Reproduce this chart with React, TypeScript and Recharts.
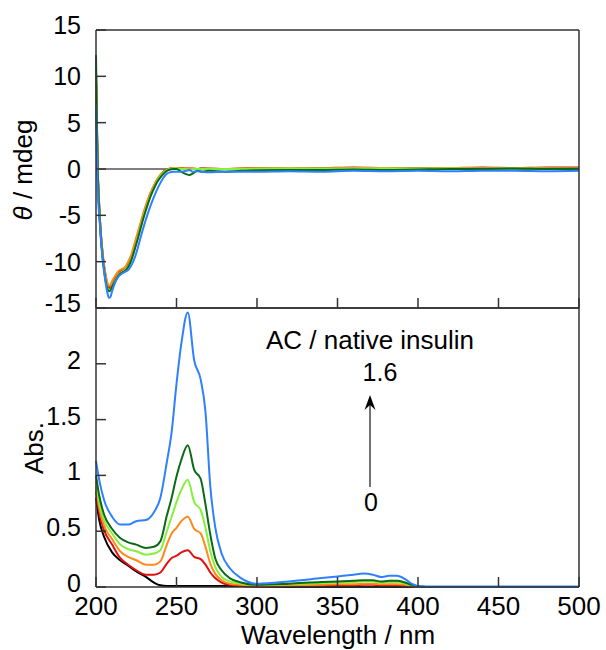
import React from "react";
import { LineChart, Line, XAxis, YAxis, ReferenceLine } from "recharts";

const FONT = '"Liberation Sans", Arial, Helvetica, sans-serif';
const AXIS = "#333";

const xTicks = [200, 250, 300, 350, 400, 450, 500];
const cdTicks = [-15, -10, -5, 0, 5, 10, 15];
const cdRightTicks = [-10, -5, 5, 10];
const absTicks = [0, 0.5, 1, 1.5, 2];
const absRightTicks = [0.5, 1, 1.5, 2];

// CD spectra (mdeg)
const cdWl = [200, 200.5, 201, 202, 203, 204, 205, 206, 207, 208, 209, 210, 212, 214, 216, 218, 220, 222, 224, 226, 228, 230, 232, 234, 236, 238, 240, 242, 244, 246, 248, 250, 253, 256, 258, 260, 263, 266, 270, 280, 290, 300, 320, 340, 360, 380, 400, 420, 440, 460, 480, 500];
const cdBlack = [10, 5, 0.5, -4, -7, -9, -10.6, -11.7, -12.5, -12.8, -12.8, -12.4, -11.8, -11.3, -11.0, -10.8, -10.3, -9.5, -8.3, -7.1, -5.9, -4.7, -3.6, -2.6, -1.9, -1.2, -0.7, -0.3, -0.1, 0, 0.05, 0.05, 0.05, 0.05, 0, 0, 0, 0.05, 0, 0, 0, 0.05, 0.05, 0.05, 0.1, 0.05, 0.05, 0.1, 0.05, 0.1, 0.05, 0.05];
const cdRed = [10.5, 5, 0.3, -4.2, -7, -9, -10.5, -11.6, -12.4, -12.8, -12.7, -12.3, -11.7, -11.2, -10.9, -10.7, -10.2, -9.4, -8.2, -7.0, -5.8, -4.6, -3.5, -2.6, -1.8, -1.2, -0.7, -0.3, -0.1, 0.05, 0.1, 0.1, 0.05, 0.1, 0.05, 0.05, 0, 0.05, 0.05, 0, 0.05, 0.1, 0.1, 0.1, 0.15, 0.1, 0.1, 0.1, 0.15, 0.1, 0.15, 0.15];
const cdOrange = [9.5, 4.5, 0, -4, -6.8, -8.8, -10.3, -11.4, -12.2, -12.6, -12.5, -12.1, -11.5, -11.0, -10.8, -10.6, -10.0, -9.2, -8.0, -6.8, -5.6, -4.4, -3.4, -2.5, -1.8, -1.1, -0.6, -0.3, -0.1, 0.05, 0.1, 0.1, 0.05, 0.1, 0.05, 0.05, 0, 0.05, 0, 0, 0.05, 0.05, 0.1, 0.05, 0.1, 0.1, 0.05, 0.1, 0.05, 0.1, 0.05, 0];
const cdLightGreen = [11, 5.5, 0.5, -4.2, -7.2, -9.3, -10.8, -12.0, -12.8, -13.1, -13.0, -12.6, -12.0, -11.4, -11.1, -10.9, -10.5, -9.7, -8.6, -7.4, -6.1, -4.9, -3.8, -2.8, -2.0, -1.3, -0.8, -0.4, -0.15, 0, 0.05, 0.05, 0, 0, -0.1, 0, 0, 0, 0, 0, 0, 0.05, 0.05, 0.05, 0.05, 0.05, 0.05, 0.05, 0.05, 0.05, 0.05, 0.05];
const cdDarkGreen = [12.3, 6, 0.5, -4.3, -7.3, -9.4, -10.9, -12.1, -12.9, -13.2, -13.1, -12.7, -12.1, -11.5, -11.2, -11.0, -10.6, -9.8, -8.7, -7.5, -6.2, -5.0, -3.9, -2.9, -2.1, -1.4, -0.9, -0.5, -0.2, -0.05, 0, 0, -0.3, -0.55, -0.65, -0.5, -0.2, -0.3, -0.2, -0.3, -0.2, -0.15, -0.1, -0.1, -0.05, -0.1, -0.05, 0, 0, 0.05, 0, 0];
const cdBlue = [7, 2, -2, -5, -7.5, -9.5, -11, -12.3, -13.3, -13.9, -13.8, -13.2, -12.2, -11.6, -11.3, -11.1, -10.9, -10.4, -9.6, -8.5, -7.2, -6.0, -4.9, -3.9, -3.0, -2.2, -1.5, -0.9, -0.5, -0.35, -0.3, -0.3, -0.3, -0.2, -0.1, -0.3, -0.25, -0.3, -0.35, -0.3, -0.3, -0.3, -0.25, -0.3, -0.2, -0.25, -0.2, -0.25, -0.2, -0.2, -0.25, -0.2];

// UV-vis absorbance
const absWl = [200, 202, 205, 210, 215, 220, 225, 231, 236, 240, 244, 247, 250, 253, 257, 261, 265, 268, 271, 274, 278, 283, 290, 300, 320, 340, 350, 360, 366, 372, 377, 382, 387, 392, 396, 400, 410, 450, 500];
const absBlack = [0.80, 0.60, 0.45, 0.31, 0.24, 0.19, 0.14, 0.09, 0.04, 0.015, 0.01, 0.01, 0.01, 0.01, 0.01, 0.01, 0.01, 0.01, 0.01, 0.01, 0.01, 0.01, 0.01, 0.005, 0, 0, 0, 0, 0, 0, 0, 0, 0, 0, 0, 0, 0, 0, 0];
const absRed = [0.86, 0.67, 0.51, 0.38, 0.26, 0.20, 0.15, 0.11, 0.11, 0.13, 0.21, 0.26, 0.28, 0.31, 0.33, 0.27, 0.25, 0.20, 0.13, 0.08, 0.04, 0.02, 0.01, 0.005, 0.01, 0.012, 0.015, 0.015, 0.02, 0.02, 0.015, 0.015, 0.015, 0.01, 0.005, 0, 0, 0, 0];
const absOrange = [0.90, 0.71, 0.55, 0.43, 0.32, 0.27, 0.24, 0.20, 0.20, 0.23, 0.38, 0.48, 0.53, 0.59, 0.63, 0.52, 0.48, 0.36, 0.21, 0.12, 0.06, 0.03, 0.02, 0.01, 0.015, 0.02, 0.025, 0.025, 0.03, 0.03, 0.025, 0.025, 0.025, 0.02, 0.01, 0.003, 0, 0, 0];
const absLightGreen = [0.95, 0.76, 0.60, 0.48, 0.38, 0.34, 0.32, 0.29, 0.30, 0.33, 0.50, 0.63, 0.76, 0.87, 0.96, 0.76, 0.69, 0.53, 0.32, 0.18, 0.09, 0.05, 0.03, 0.02, 0.025, 0.035, 0.04, 0.045, 0.05, 0.05, 0.04, 0.045, 0.045, 0.03, 0.015, 0.005, 0, 0, 0];
const absDarkGreen = [1.0, 0.82, 0.65, 0.52, 0.44, 0.40, 0.38, 0.35, 0.36, 0.41, 0.64, 0.80, 0.99, 1.14, 1.27, 1.05, 0.97, 0.74, 0.47, 0.26, 0.15, 0.08, 0.04, 0.02, 0.03, 0.045, 0.05, 0.055, 0.06, 0.06, 0.05, 0.055, 0.055, 0.04, 0.02, 0.005, 0, 0, 0];
const absBlue = [1.13, 0.96, 0.78, 0.63, 0.56, 0.56, 0.59, 0.60, 0.67, 0.80, 1.12, 1.39, 1.82, 2.18, 2.46, 2.03, 1.86, 1.57, 0.90, 0.54, 0.30, 0.17, 0.08, 0.03, 0.05, 0.08, 0.095, 0.11, 0.12, 0.11, 0.09, 0.10, 0.10, 0.07, 0.03, 0.01, 0.005, 0.005, 0.005];

const series = [
  { key: "black", color: "#000000" },
  { key: "red", color: "#e01010" },
  { key: "orange", color: "#ff8a1c" },
  { key: "lightGreen", color: "#84f03a" },
  { key: "darkGreen", color: "#0b6a17" },
  { key: "blue", color: "#2f80ff" },
];

const cdData = cdWl.map((wl, i) => ({
  wl,
  black: cdBlack[i],
  red: cdRed[i],
  orange: cdOrange[i],
  lightGreen: cdLightGreen[i],
  darkGreen: cdDarkGreen[i],
  blue: cdBlue[i],
}));

const absData = absWl.map((wl, i) => ({
  wl,
  black: absBlack[i],
  red: absRed[i],
  orange: absOrange[i],
  lightGreen: absLightGreen[i],
  darkGreen: absDarkGreen[i],
  blue: absBlue[i],
}));

const axisLine = { stroke: AXIS, strokeWidth: 1.5 };

// inward tick marks drawn by hand so labels can stay outside the frame
const leftTick = (shiftFor: (v: number) => number) => (p: any) => (
  <g>
    <line x1={p.x} y1={p.y} x2={p.x + 10} y2={p.y} stroke={AXIS} strokeWidth={1.5} />
    <text x={p.x - 15} y={p.y + shiftFor(p.payload.value)} dy="0.36em" textAnchor="end"
      fontSize={25} fontFamily={FONT} fill="#000">
      {p.payload.value}
    </text>
  </g>
);
const rightTick = (p: any) => (
  <line x1={p.x} y1={p.y} x2={p.x - 10} y2={p.y} stroke={AXIS} strokeWidth={1.5} />
);
const upTick = (p: any) => (
  <line x1={p.x} y1={p.y} x2={p.x} y2={p.y - 10} stroke={AXIS} strokeWidth={1.5} />
);
const downTick = (p: any) => (
  <line x1={p.x} y1={p.y} x2={p.x} y2={p.y + 10} stroke={AXIS} strokeWidth={1.5} />
);
const bottomLabelTick = (p: any) => (
  <g>
    <line x1={p.x} y1={p.y} x2={p.x} y2={p.y - 10} stroke={AXIS} strokeWidth={1.5} />
    <text x={p.x} y={p.y + 28} textAnchor="middle" fontSize={26} fontFamily={FONT} fill="#000">
      {p.payload.value}
    </text>
  </g>
);

const renderLines = () =>
  series.map((s) => (
    <Line
      key={s.key}
      type="monotone"
      dataKey={s.key}
      stroke={s.color}
      strokeWidth={2}
      dot={false}
      activeDot={false}
      isAnimationActive={false}
    />
  ));

export default function App() {
  return (
    <div style={{ position: "absolute", left: 0, top: 0, width: 606, height: 650, background: "#fff", overflow: "hidden" }}>
      <style>{".recharts-surface{overflow:visible}"}</style>
      <div style={{ position: "absolute", left: 0, top: 0 }}>
        <LineChart width={606} height={309} data={cdData} margin={{ top: 29, right: 26, bottom: 0, left: 0 }}>
          <XAxis dataKey="wl" type="number" domain={[200, 500]} ticks={xTicks} interval={0}
            height={1} tickSize={0} tickMargin={0} tickLine={false} axisLine={axisLine} tick={upTick} />
          <XAxis xAxisId="t" orientation="top" type="number" domain={[200, 500]} ticks={xTicks} interval={0}
            height={1} tickSize={0} tickMargin={0} tickLine={false} axisLine={axisLine} tick={downTick} />
          <YAxis type="number" domain={[-15, 15]} ticks={cdTicks} interval={0} width={96}
            tickSize={0} tickMargin={0} tickLine={false} axisLine={axisLine}
            tick={leftTick((v) => (v === 15 || v === -15 ? -5 : 0))} />
          <YAxis yAxisId="r" orientation="right" type="number" domain={[-15, 15]} ticks={cdRightTicks} interval={0}
            width={1} tickSize={0} tickMargin={0} tickLine={false} axisLine={axisLine} tick={rightTick} />
          <ReferenceLine y={0} stroke="#000" strokeWidth={1.2} />
          {renderLines()}
        </LineChart>
      </div>
      <div style={{ position: "absolute", left: 0, top: 307 }}>
        <LineChart width={606} height={343} data={absData} margin={{ top: 0, right: 26, bottom: 62, left: 0 }}>
          <XAxis dataKey="wl" type="number" domain={[200, 500]} ticks={xTicks} interval={0}
            height={1} tickSize={0} tickMargin={0} tickLine={false} axisLine={axisLine} tick={bottomLabelTick} />
          <XAxis xAxisId="t" orientation="top" type="number" domain={[200, 500]} ticks={xTicks} interval={0}
            height={1} tickSize={0} tickMargin={0} tickLine={false} axisLine={axisLine} tick={downTick} />
          <YAxis type="number" domain={[0, 2.5]} ticks={absTicks} interval={0} width={96}
            tickSize={0} tickMargin={0} tickLine={false} axisLine={axisLine} tick={leftTick(() => -4)} />
          <YAxis yAxisId="r" orientation="right" type="number" domain={[0, 2.5]} ticks={absRightTicks} interval={0}
            width={1} tickSize={0} tickMargin={0} tickLine={false} axisLine={axisLine} tick={rightTick} />
          {renderLines()}
        </LineChart>
      </div>
      <svg width={606} height={650} style={{ position: "absolute", left: 0, top: 0, pointerEvents: "none" }}>
        <text transform="translate(32,170) rotate(-90)" textAnchor="middle" fontSize={26} fontFamily={FONT} fill="#000">
          <tspan fontStyle="italic">θ</tspan> / mdeg
        </text>
        <text transform="translate(43,448) rotate(-90)" textAnchor="middle" fontSize={26} fontFamily={FONT} fill="#000">
          Abs.
        </text>
        <text x={338} y={644} textAnchor="middle" fontSize={26} fontFamily={FONT} fill="#000">
          Wavelength / nm
        </text>
        <text x={370} y={349} textAnchor="middle" fontSize={26} fontFamily={FONT} fill="#000">
          AC / native insulin
        </text>
        <text x={380} y={381} textAnchor="middle" fontSize={25} fontFamily={FONT} fill="#000">
          1.6
        </text>
        <text x={371} y={511} textAnchor="middle" fontSize={25} fontFamily={FONT} fill="#000">
          0
        </text>
        <line x1={370} y1={487} x2={370} y2={400} stroke="#444" strokeWidth={1.5} />
        <path d="M370,395 L364.5,410 L370,405 L375.5,410 Z" fill="#000" />
      </svg>
    </div>
  );
}
